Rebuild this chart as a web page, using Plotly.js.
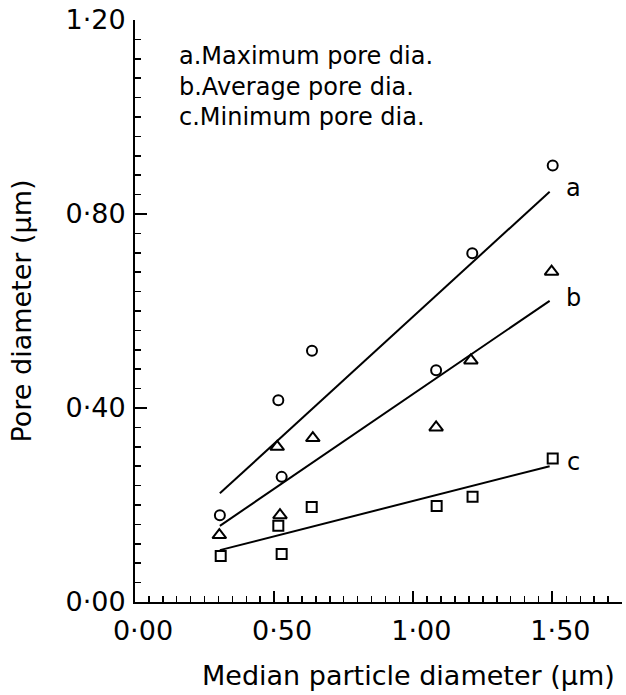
<!DOCTYPE html>
<html>
<head>
<meta charset="utf-8">
<script src="https://cdn.plot.ly/plotly-3.0.1.min.js"></script>
<style>html,body{margin:0;padding:0;background:#fff;}</style>
</head>
<body>
<div id="chart" style="width:626px;height:695px;"></div>
<script>
// Series a: maximum pore diameter (circles)
const xMax = [0.305, 0.515, 0.527, 0.636, 1.082, 1.212, 1.501];
const yMax = [0.179, 0.416, 0.258, 0.518, 0.478, 0.719, 0.900];
// Series b: average pore diameter (triangles)
const xAvg = [0.303, 0.511, 0.521, 0.639, 1.082, 1.207, 1.497];
const yAvg = [0.138, 0.320, 0.179, 0.338, 0.360, 0.498, 0.681];
// Series c: minimum pore diameter (squares)
const xMin = [0.308, 0.515, 0.527, 0.635, 1.084, 1.213, 1.501];
const yMin = [0.095, 0.157, 0.099, 0.196, 0.198, 0.217, 0.296];
// Fitted lines (end points)
const fitX = [0.305, 1.490];
const fitA = [0.224, 0.846];
const fitB = [0.157, 0.621];
const fitC = [0.107, 0.280];
// Curve labels
const curveLabels = ["a", "b", "c"];
const curveLabelX = [1.574, 1.577, 1.574];
const curveLabelY = [0.854, 0.627, 0.289];
// Key text
const keyText = ["a.Maximum pore dia.", "b.Average pore dia.", "c.Minimum pore dia."];
const keyY = [1.125, 1.062, 1.000];
const keyX = 0.152;
// Axis titles
const xTitle = "Median particle diameter (µm)";
const yTitle = "Pore diameter (µm)";

const FONT = "DejaVu Sans, Verdana, sans-serif";
const mk = (sym, size) => ({symbol: sym, size: size, color: "#000", line: {color: "#000", width: 2}});

// minor tick positions
const xMinor = [], yMinor = [];
for (let i = 0; i <= 35; i++) xMinor.push(Math.round(i * 5) / 100);
for (let i = 0; i <= 30; i++) yMinor.push(Math.round(i * 4) / 100);

const traces = [
  {x: fitX, y: fitA, mode: "lines", line: {color: "#000", width: 2}, name: "fit a"},
  {x: fitX, y: fitB, mode: "lines", line: {color: "#000", width: 2}, name: "fit b"},
  {x: fitX, y: fitC, mode: "lines", line: {color: "#000", width: 2}, name: "fit c"},
  {x: xMax, y: yMax, mode: "markers", marker: mk("circle-open", 10), name: "Maximum pore dia."},
  {x: xAvg, y: yAvg, mode: "markers", marker: mk("triangle-up-open", 12), name: "Average pore dia."},
  {x: xMin, y: yMin, mode: "markers", marker: mk("square-open", 10), name: "Minimum pore dia."}
];

const annotations = [];
curveLabels.forEach((t, i) => annotations.push({
  x: curveLabelX[i], y: curveLabelY[i], xref: "x", yref: "y", text: t, showarrow: false,
  font: {family: FONT, size: 24, color: "#000"}, xanchor: "center", yanchor: "middle"
}));
keyText.forEach((t, i) => annotations.push({
  x: keyX, y: keyY[i], xref: "x", yref: "y", text: t, showarrow: false,
  font: {family: FONT, size: 24, color: "#000"}, xanchor: "left", yanchor: "middle"
}));
annotations.push({
  x: 0.5616, y: -0.127, xref: "paper", yref: "paper", text: xTitle, showarrow: false,
  font: {family: FONT, size: 27, color: "#000"}, xanchor: "center", yanchor: "middle"
});

const layout = {
  width: 626, height: 695,
  margin: {l: 135, r: 4, t: 20, b: 93},
  paper_bgcolor: "#fff", plot_bgcolor: "#fff",
  showlegend: false,
  separators: "·,",
  font: {family: FONT, color: "#000"},
  xaxis: {
    range: [0, 1.75], tickmode: "linear", tick0: 0, dtick: 0.5, tickformat: ".2f",
    showline: true, linecolor: "#000", linewidth: 2, mirror: false,
    ticks: "inside", ticklen: 11, tickwidth: 2, tickcolor: "#000",
    minor: {tickmode: "array", tickvals: xMinor, ticks: "inside", ticklen: 6, tickwidth: 1.5, tickcolor: "#000", showgrid: false},
    showgrid: false, zeroline: false,
    tickfont: {family: FONT, size: 27, color: "#000"},
    ticklabelshift: 8, ticklabelstandoff: 4
  },
  yaxis: {
    range: [0, 1.2], tickmode: "linear", tick0: 0, dtick: 0.4, tickformat: ".2f",
    showline: true, linecolor: "#000", linewidth: 2, mirror: false,
    ticks: "inside", ticklen: 12, tickwidth: 2, tickcolor: "#000",
    minor: {tickmode: "array", tickvals: yMinor, ticks: "inside", ticklen: 6, tickwidth: 1.5, tickcolor: "#000", showgrid: false},
    showgrid: false, zeroline: false,
    tickfont: {family: FONT, size: 27, color: "#000"},
    ticklabelstandoff: 2,
    title: {text: yTitle, font: {family: FONT, size: 27, color: "#000"}, standoff: 26}
  },
  annotations: annotations
};

Plotly.newPlot("chart", traces, layout, {displayModeBar: false, staticPlot: true});
</script>
</body>
</html>
